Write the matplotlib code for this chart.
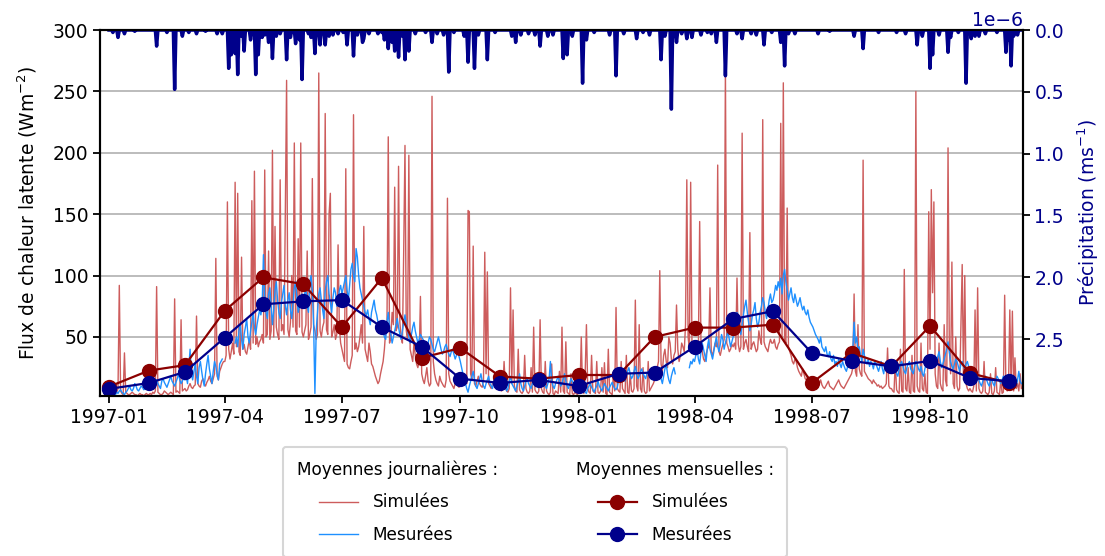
import numpy as np
import pandas as pd
import matplotlib
matplotlib.use('Agg')
import matplotlib.pyplot as plt
import matplotlib.dates as mdates
from matplotlib.lines import Line2D

plt.rcParams['font.family'] = ['DejaVu Sans']
plt.rcParams['mathtext.default'] = 'regular'

# daily latent heat flux, simulated (W m-2), one row per month
sim_daily_1997 = [
    10, 12, 8, 6, 5, 4, 5, 8, 92, 6, 4, 3, 37, 5, 4, 3, 3, 4, 5, 4, 3, 3, 2, 3, 4, 3, 3, 2, 3, 4, 3,
    3, 4, 3, 5, 4, 6, 91, 5, 4, 3, 3, 4, 6, 5, 4, 3, 4, 5, 4, 3, 81, 5, 6, 5, 4, 64, 6, 7,
    8, 6, 7, 10, 12, 9, 8, 10, 11, 67, 12, 10, 9, 14, 16, 12, 10, 13, 15, 18, 14, 12, 16, 20, 114, 18, 15, 22, 25, 28, 30,
    30, 35, 160, 40, 32, 38, 45, 36, 176, 42, 167, 38, 35, 115, 40, 44, 38, 36, 42, 48, 40, 161, 45, 185, 44, 50, 42, 46, 48, 52,
    45, 186, 50, 52, 120, 48, 55, 202, 50, 140, 58, 52, 48, 178, 55, 60, 52, 150, 259, 56, 50, 62, 100, 58, 208, 55, 52, 130, 58, 208, 54,
    50, 55, 60, 120, 48, 52, 58, 179, 60, 55, 48, 52, 265, 55, 50, 58, 62, 232, 56, 52, 150, 167, 50, 54, 60, 48, 52, 125, 58, 45,
    40, 35, 30, 187, 28, 25, 24, 30, 35, 231, 40, 45, 38, 42, 50, 60, 45, 140, 40, 35, 30, 45, 38, 28, 26, 22, 18, 15, 12, 14, 20,
    25, 30, 40, 55, 60, 213, 45, 50, 70, 60, 172, 55, 58, 189, 62, 50, 45, 120, 206, 55, 48, 198, 40, 35, 30, 45, 35, 28, 25, 30, 83,
    20, 15, 12, 18, 25, 14, 10, 12, 246, 30, 20, 15, 12, 10, 18, 14, 12, 10, 9, 15, 163, 20, 14, 12, 10, 8, 12, 15, 10, 9,
    12, 10, 15, 18, 14, 12, 153, 152, 20, 15, 124, 12, 10, 14, 18, 12, 10, 9, 15, 119, 20, 103, 12, 10, 8, 12, 14, 10, 9, 8, 10,
    8, 6, 7, 30, 9, 6, 5, 8, 90, 12, 72, 10, 6, 5, 40, 7, 5, 4, 6, 35, 8, 5, 4, 6, 25, 5, 58, 7, 5, 4,
    6, 64, 8, 5, 4, 30, 6, 4, 3, 5, 28, 4, 3, 6, 5, 4, 22, 5, 58, 6, 4, 46, 5, 4, 3, 20, 4, 3, 5, 4, 3,
]
sim_daily_1998 = [
    5, 8, 50, 6, 4, 20, 60, 8, 5, 4, 35, 6, 5, 4, 30, 5, 4, 6, 25, 5, 29, 4, 3, 40, 5, 4, 3, 22, 6, 74, 8,
    6, 5, 30, 8, 6, 4, 35, 5, 4, 20, 6, 5, 8, 80, 10, 6, 60, 8, 5, 25, 6, 4, 5, 30, 6, 8, 10, 12,
    15, 20, 25, 30, 104, 28, 22, 35, 40, 30, 25, 50, 45, 32, 28, 35, 38, 76, 40, 30, 35, 45, 42, 38, 60, 178, 50, 40, 176, 45, 40,
    40, 35, 38, 42, 144, 45, 38, 32, 30, 36, 40, 42, 90, 38, 35, 40, 45, 42, 190, 38, 35, 40, 44, 48, 269, 45, 42, 38, 40, 44,
    42, 45, 40, 98, 44, 38, 42, 216, 40, 45, 48, 42, 38, 135, 40, 44, 46, 42, 38, 40, 55, 48, 44, 227, 46, 42, 40, 38, 44, 48, 45,
    45, 48, 42, 40, 44, 46, 224, 50, 257, 48, 45, 155, 42, 38, 35, 30, 28, 32, 30, 25, 22, 20, 18, 24, 20, 16, 15, 18, 14, 12,
    12, 10, 14, 9, 8, 10, 12, 15, 11, 9, 8, 10, 12, 14, 10, 9, 8, 7, 9, 11, 13, 15, 12, 10, 9, 8, 10, 12, 14, 16, 18,
    20, 25, 85, 22, 18, 60, 24, 20, 18, 194, 22, 20, 18, 16, 15, 14, 12, 15, 13, 12, 10, 11, 9, 10, 8, 9, 10, 12, 41, 10, 8,
    8, 6, 5, 30, 7, 5, 4, 40, 6, 5, 105, 8, 6, 25, 5, 4, 35, 6, 5, 250, 10, 6, 5, 45, 8, 6, 20, 5, 4, 152,
    40, 170, 86, 160, 20, 10, 8, 45, 12, 8, 6, 60, 15, 10, 204, 40, 20, 111, 12, 8, 50, 10, 6, 8, 60, 109, 15, 100, 12, 8, 6,
    8, 6, 5, 10, 72, 6, 90, 8, 5, 4, 6, 30, 5, 4, 3, 5, 20, 4, 3, 6, 25, 5, 4, 3, 15, 4, 5, 84, 8, 6,
    10, 72, 8, 71, 6, 33, 8, 12, 6, 20, 8,
]

# daily latent heat flux, measured (nan = no measurement)
nan = np.nan
meas_daily_1997 = [
    4, 5, 6, 5, 4, 3, 5, 4, 6, 7, 5, 4, 3, 5, 6, 8, 10, 7, 6, 8, 12, 10, 7, 6, 8, 10, 9, 7, 8, 10, 12,
    10, 12, 14, 11, 9, 13, 15, 12, 10, 8, 14, 16, 13, 11, 9, 12, 15, 18, 14, 12, 10, 13, 16, 20, 15, 12, 14, 17,
    15, 18, 12, 25, 40, 20, 15, 22, 28, 18, 12, 25, 30, 22, 15, 10, 20, 28, 35, 24, 18, 12, 22, 30, 26, 20, 15, 28, 30, 32, nan,
    nan, nan, nan, nan, nan, nan, nan, nan, 45, 50, 42, 55, 60, 48, 40, 52, 58, 65, 50, 45, 55, 62, 70, 58, 52, 60, 66, 72, 68, 75,
    117, 80, 70, 65, 85, 90, 75, 60, 72, 88, 95, 80, 70, 65, 78, 85, 92, 75, 68, 80, 86, 72, 65, 78, 90, 95, 82, 70, 75, 80, 85,
    80, 85, 90, 75, 70, 95, 100, 88, 60, 4, 55, 70, 85, 90, 80, 72, 65, 88, 95, 100, 85, 78, 70, 82, 90, 86, 75, 80, 88, 92,
    85, 90, 95, 100, 88, 80, 92, 105, 110, 100, 95, 122, 115, 100, 90, 85, 80, 75, 70, 68, 72, 65, 60, 70, 75, 80, 72, 68, 62, 58, 55,
    60, 55, 50, 48, 62, 70, 58, 52, 45, 50, 55, 60, 65, 58, 52, 48, 55, 62, 68, 60, 55, 50, 45, 52, 58, 62, 55, 50, 45, 48, 52,
    50, 48, 45, 42, 40, 45, 50, 48, 44, 40, 38, 42, 46, 50, 45, 40, 36, 38, 42, 44, 40, 36, 34, 38, 40, 36, 32, 35, 38, 34,
    30, 25, 20, 15, 12, 8, 5, 10, 14, 18, 22, 15, 10, 8, 12, 16, 20, 14, 10, 8, 12, 15, 18, 12, 10, 8, 14, 16, 12, 10, 8,
    10, 8, 12, 15, 10, 6, 8, 14, 18, 12, 10, 8, 6, 10, 14, 20, 12, 8, 6, 10, 14, 16, 12, 10, 8, 12, 15, 18, 14, 10,
    12, 15, 18, 20, 14, 10, 8, 12, 16, 30, 14, 10, 8, 12, 15, 18, 14, 10, 12, 16, 20, 14, 10, 8, 12, 16, 14, 12, 10, 12, 14,
]
meas_daily_1998 = [
    8, 6, 10, 12, 8, 5, 4, 8, 10, 12, 9, 7, 5, 8, 10, 14, 10, 8, 6, 9, 12, 10, 8, 6, 9, 11, 13, 10, 8, 7, 9,
    15, 18, 22, 20, 16, 14, 18, 22, 25, 20, 16, 18, 22, 26, 20, 16, 18, 22, 24, 20, 18, 16, 20, 22, 18, 16, 20, 22,
    15, 18, 22, 25, 20, 16, 12, 18, 24, 28, 20, 15, 12, 18, 22, 25, 20, nan, nan, nan, nan, nan, nan, nan, nan, nan, nan, 25, 30, 28, 32,
    30, 35, 40, 32, 28, 38, 45, 40, 35, 30, 42, 48, 40, 36, 32, 38, 45, 50, 42, 38, 44, 52, 48, 40, 45, 50, 55, 48, 42, 46,
    50, 55, 60, 70, 65, 58, 52, 60, 68, 75, 80, 70, 62, 55, 60, 68, 72, 78, 65, 58, 62, 70, 75, 82, 78, 70, 65, 72, 80, 85, 78,
    80, 85, 92, 88, 95, 90, 98, 85, 100, 105, 95, 88, 80, 85, 90, 82, 78, 85, 80, 75, 78, 82, 76, 72, 75, 70, 68, 72, 66, 62,
    60, 58, 55, 52, 50, 48, 45, 50, 42, 40, 38, 42, 36, 34, 38, 32, 30, 35, 28, 30, 26, 32, 28, 25, 30, 27, 24, 22, 26, 30, 28,
    35, 40, 62, 45, 50, 38, 42, 35, 30, 40, 35, 30, 28, 32, 26, 30, 28, 24, 30, 28, 25, 22, 26, 30, 24, 20, 28, 26, 22, 25, 28,
    22, 25, 30, 28, 20, 18, 24, 28, 30, 26, 22, 20, 25, 28, 30, 24, 22, 20, 26, 30, 28, 24, 22, 26, 20, 18, 24, 28, 30, 26,
    28, 32, 35, 30, 26, 28, 34, 38, 30, 25, 28, 32, 36, 40, 46, 38, 30, 26, 24, 28, 32, 30, 26, 22, 28, 30, 26, 24, 28, 30, 26,
    20, 18, 15, 12, 14, 16, 18, 15, 12, 10, 14, 16, 18, 15, 12, 10, 14, 16, 12, 10, 15, 18, 16, 14, 12, 15, 18, 14, 12, 16,
    14, 12, 16, 18, 14, 12, 10, 15, 22, 14, 12,
]

# monthly means (W m-2)
sim_month = [9.5, 22.6, 27, 71.4, 98.6, 93, 58, 98, 33, 41, 17.7, 16,
             19, 19, 50, 57.6, 57.6, 60, 12.5, 37, 26, 59, 20.6, 12.5]
meas_month = [7.7, 12.5, 21.5, 49.5, 76.6, 79, 80, 58, 42, 16, 12.5, 15,
              10, 20, 21, 42, 64.6, 71, 37, 30.5, 26, 30.5, 16.6, 14]

# rain days (days since 1997-01-01) and rain rate (1e-6 m/s); other days dry
rain_days = [7, 12, 37, 51, 57, 68, 84, 93, 95, 98, 100, 105, 114, 116, 121, 124, 127, 133, 138, 145,
             150, 160, 164, 168, 174, 185, 190, 197, 198, 209, 217, 222, 225, 230, 233, 251, 255, 264,
             279, 284, 294, 313, 316, 331, 335, 341, 353, 356, 368, 371, 389, 394, 410, 429, 437, 441,
             449, 453, 460, 468, 472, 479, 492, 499, 509, 522, 525, 528, 551, 579, 586, 619, 628, 638,
             640, 652, 654, 666, 673, 676, 697, 701, 703,
             3, 20, 45, 62, 75, 88, 103, 110, 119, 130, 141, 148, 155, 157, 171, 178, 182, 193, 202, 212,
             214, 220, 228, 238, 246, 260, 268, 276, 287, 300, 320, 326, 345, 360, 377, 400, 415, 420,
             432, 445, 465, 488, 503, 515, 533, 560, 598, 612, 632, 645, 660, 670, 681, 690, 699, 706]
rain_rate = [0.06, 0.03, 0.13, 0.48, 0.05, 0.03, 0.03, 0.31, 0.2, 0.19, 0.36, 0.17, 0.36, 0.2, 0.04, 0.1, 0.23, 0.03, 0.24, 0.11,
             0.40, 0.19, 0.12, 0.12, 0.04, 0.12, 0.21, 0.1, 0.07, 0.03, 0.15, 0.17, 0.22, 0.24, 0.17, 0.1, 0.03, 0.34,
             0.26, 0.31, 0.24, 0.05, 0.1, 0.04, 0.13, 0.05, 0.23, 0.2, 0.43, 0.08, 0.04, 0.37, 0.07, 0.24, 0.64, 0.1,
             0.07, 0.06, 0.04, 0.03, 0.1, 0.37, 0.07, 0.03, 0.12, 0.1, 0.29, 0.03, 0.03, 0.05, 0.15, 0.03, 0.12, 0.31,
             0.2, 0.18, 0.06, 0.43, 0.05, 0.05, 0.18, 0.29, 0.05,
             0.02, 0.01, 0.02, 0.02, 0.01, 0.03, 0.05, 0.08, 0.06, 0.05, 0.06, 0.08, 0.03, 0.06, 0.05, 0.03, 0.02, 0.04, 0.03, 0.02,
             0.08, 0.1, 0.05, 0.03, 0.02, 0.04, 0.02, 0.05, 0.04, 0.02, 0.04, 0.03, 0.04, 0.05, 0.02, 0.03, 0.02, 0.04,
             0.05, 0.03, 0.02, 0.03, 0.04, 0.02, 0.03, 0.01, 0.02, 0.02, 0.05, 0.04, 0.02, 0.07, 0.03, 0.02, 0.08, 0.04]

sim_daily = np.array(sim_daily_1997 + sim_daily_1998, dtype=float)
meas_daily = np.array(meas_daily_1997 + meas_daily_1998, dtype=float)
days = pd.date_range('1997-01-01', periods=len(sim_daily), freq='D')
months = pd.date_range('1997-01-01', periods=len(sim_month), freq='MS')
rain = np.zeros(len(days))
rain[rain_days] = np.array(rain_rate) * 1e-6

fig = plt.figure(figsize=(11.05, 5.56), dpi=100)
ax = fig.add_axes([0.0905, 0.288, 0.835, 0.658])

l_sim_d, = ax.plot(days, sim_daily, color='indianred', lw=1)
l_mes_d, = ax.plot(days, meas_daily, color='dodgerblue', lw=1)
l_sim_m, = ax.plot(months, sim_month, color='darkred', lw=1.6, marker='o', ms=10)
l_mes_m, = ax.plot(months, meas_month, color='darkblue', lw=1.6, marker='o', ms=10)

ax.set_ylim(2, 300)
ax.set_xlim(pd.Timestamp('1996-12-25'), pd.Timestamp('1998-12-12'))
ax.xaxis.set_major_locator(mdates.MonthLocator(bymonth=[1, 4, 7, 10]))
ax.xaxis.set_major_formatter(mdates.DateFormatter('%Y-%m'))
ax.grid(axis='y', color='#b0b0b0', lw=1.2)
ax.set_axisbelow(True)
ax.set_ylabel('Flux de chaleur latente (Wm$^{-2}$)', fontsize=13.5, labelpad=10)
ax.tick_params(labelsize=13.5, length=5, width=1.3)

ax2 = ax.twinx()
ax2.plot(days, rain, color='darkblue', lw=2.5)
ax2.set_ylim(2.96e-6, 0)
ax2.tick_params(labelsize=13.5, length=5, width=1.3, labelcolor='darkblue')
ax2.yaxis.get_offset_text().set_color('darkblue')
ax2.yaxis.get_offset_text().set_fontsize(13.5)
ax2.set_ylabel('Précipitation (ms$^{-1}$)', fontsize=13.5, color='darkblue', labelpad=8)

for a in (ax, ax2):
    for s in a.spines.values():
        s.set_linewidth(1.5)

hdr = Line2D([], [], linestyle='none')
leg = fig.legend([hdr, l_sim_d, l_mes_d, hdr, l_sim_m, l_mes_m],
                 ['Moyennes journalières :', 'Simulées', 'Mesurées',
                  'Moyennes mensuelles :', 'Simulées', 'Mesurées'],
                 ncol=2, loc='upper left', bbox_to_anchor=(283 / 1105, 1 - 447 / 556),
                 fontsize=12.2, handlelength=2.3, handletextpad=0.9, columnspacing=4.6,
                 labelspacing=0.85, borderpad=0.8, borderaxespad=0)
leg.get_frame().set_linewidth(1.5)

# headers start at the column edge, handles are indented under them
shift = 22 * 72 / fig.dpi
for col in leg._legend_handle_box.get_children():
    rows = col.get_children()
    rows[0].get_children()[0].width = 0
    rows[0].sep = 0
    for row in rows[1:]:
        area = row.get_children()[0]
        area.width += shift
        for art in area.get_children():
            art.set_xdata(np.asarray(art.get_xdata()) + shift)

fig.savefig('out.png', dpi=100)
